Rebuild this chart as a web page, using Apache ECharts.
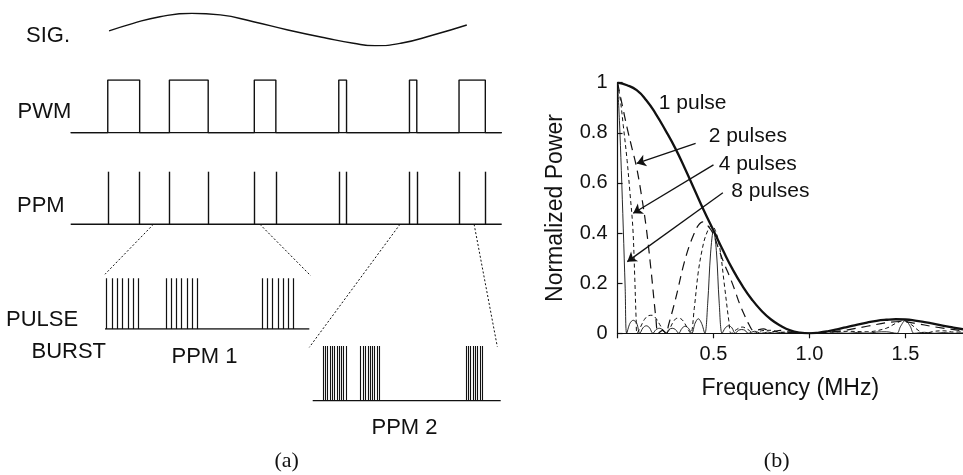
<!DOCTYPE html>
<html><head><meta charset="utf-8">
<script src="https://cdn.jsdelivr.net/npm/echarts@6/dist/echarts.min.js"></script>
<style>html,body{margin:0;padding:0;background:#fff}#c{width:963px;height:475px}</style>
</head><body><div id="c"></div>
<script>
// ===== Panel (b): normalized power spectra =====
const freq1  = [0,0.05,0.1,0.15,0.2,0.25,0.3,0.35,0.4,0.45,0.5,0.55,0.6,0.65,0.7,0.75,0.8,0.85,0.9,0.95,1.0,1.05,1.1,1.15,1.2,1.25,1.3,1.35,1.4,1.45,1.5,1.55,1.6,1.65,1.7,1.75,1.8];
const power1 = [1.00,0.99,0.97,0.93,0.875,0.81,0.74,0.66,0.575,0.49,0.41,0.33,0.255,0.19,0.135,0.09,0.055,0.03,0.012,0.003,0.0,0.003,0.009,0.017,0.026,0.035,0.043,0.05,0.054,0.056,0.055,0.051,0.045,0.038,0.03,0.023,0.016];

const freq2  = [0,0.025,0.05,0.075,0.1,0.125,0.15,0.175,0.2,0.212,0.235,0.255,0.265,0.29,0.31,0.34,0.37,0.395,0.42,0.445,0.47,0.5,0.53,0.56,0.585,0.61,0.635,0.66,0.685,0.71,0.76,0.8,0.85,0.9,0.95,1.0,1.1,1.2,1.3,1.4,1.47,1.55,1.65,1.8];
const power2 = [1,0.91,0.82,0.74,0.66,0.55,0.42,0.25,0.06,0,0.012,0,0.03,0.1,0.16,0.26,0.34,0.39,0.43,0.445,0.43,0.395,0.33,0.27,0.225,0.175,0.12,0.075,0.035,0.01,0.018,0.006,0.012,0.003,0.002,0,0.004,0.014,0.028,0.042,0.047,0.04,0.026,0.01];

const freq4  = [0,0.015,0.03,0.05,0.065,0.08,0.09,0.097,0.102,0.12,0.14,0.16,0.18,0.2,0.22,0.24,0.255,0.27,0.29,0.31,0.33,0.35,0.37,0.382,0.4,0.42,0.44,0.46,0.49,0.51,0.532,0.558,0.58,0.592,0.62,0.65,0.68,0.71,0.75,0.8,0.85,0.9,0.95,1.0,1.1,1.2,1.3,1.4,1.45,1.49,1.53,1.57,1.6,1.65,1.7,1.75,1.8];
const power4 = [1,0.93,0.83,0.69,0.56,0.42,0.22,0.06,0,0.025,0.055,0.07,0.072,0.06,0.035,0.01,0,0.015,0.045,0.06,0.058,0.04,0.012,0,0.1,0.24,0.33,0.39,0.43,0.41,0.345,0.186,0.05,0,0.015,0.025,0.015,0,0.01,0.012,0.004,0.006,0.002,0,0.004,0.008,0.006,0.02,0.04,0.05,0.035,0.01,0,0.008,0.01,0.005,0.006];

const freq8  = [0,0.01,0.02,0.03,0.04,0.048,0.065,0.082,0.1,0.116,0.133,0.15,0.167,0.184,0.2,0.218,0.235,0.251,0.268,0.285,0.302,0.319,0.336,0.353,0.37,0.387,0.404,0.421,0.438,0.455,0.47,0.485,0.5,0.515,0.53,0.545,0.562,0.579,0.596,0.613,0.63,0.647,0.664,0.681,0.715,0.749,0.783,0.817,0.851,0.885,0.919,0.96,1.0,1.05,1.1,1.15,1.2,1.25,1.3,1.35,1.4,1.455,1.475,1.5,1.525,1.545,1.6,1.65,1.7,1.75,1.8];
const power8 = [1,0.85,0.65,0.42,0.18,0,0.04,0.052,0.04,0,0.022,0.03,0.022,0,0.014,0.02,0.014,0,0.015,0.02,0.015,0,0.02,0.028,0.02,0,0.04,0.058,0.04,0,0.12,0.32,0.41,0.33,0.12,0,0.022,0.03,0.022,0,0.012,0.015,0.012,0,0.008,0,0.005,0,0.004,0,0.002,0,0,0.001,0,0.002,0,0.003,0,0.005,0.006,0,0.028,0.052,0.028,0,0.004,0,0.003,0,0.002];

const xTickValues = [0.5, 1.0, 1.5];
const yTickValues = [0, 0.2, 0.4, 0.6, 0.8, 1];
const curveNames  = ['1 pulse', '2 pulses', '4 pulses', '8 pulses'];
const labelFreq   = [0.215, 0.475, 0.527, 0.593];
const labelPower  = [0.92, 0.787, 0.676, 0.568];
const arrowFrom   = [null, [0.407, 0.758], [0.50, 0.672], [0.549, 0.561]];
const arrowTo     = [null, [0.100, 0.678], [0.082, 0.479], [0.051, 0.286]];

// ===== Panel (a): modulation schematic (time in arbitrary units 0..100) =====
const sigTime  = [8.9,14.5,20.7,28.1,34.7,42.4,50.4,59.4,65.6,70.6,76.6,84.1,91.9];
const sigValue = [-0.09,0.38,0.79,1.0,0.9,0.48,-0.03,-0.54,-0.85,-1.0,-0.85,-0.34,0.28];
const pwmRise  = [8.6, 22.9, 42.6, 62.2, 78.6, 90.1];
const pwmFall  = [16.0, 31.9, 47.6, 64.0, 80.3, 96.2];
const ppmPulses = [8.6, 16.0, 22.9, 31.9, 42.6, 47.6, 62.2, 64.0, 78.6, 80.3, 90.1, 96.2];
const burst1Pulses = [0.8,3.4,6.0,8.6,11.2,13.7,16.3, 29.9,32.3,34.9,37.5,40.1,42.6,45.2, 77.0,79.5,82.1,84.6,87.1,89.7,92.2];
const burst2Pulses = [5.6,6.8,8.0,9.2,10.4,11.6,12.8,14.0,15.2,16.4,17.6, 25.5,26.8,28.0,29.3,30.5,31.7,33.0,34.2,35.4, 81.5,82.8,84.0,85.2,86.5,87.7,89.0,90.2];
const zoomFromTime = [19.2, 43.9, 76.4, 93.6];
const zoomToGrid   = [4, 4, 5, 5];
const zoomToPoint  = [[0, 1.08], [100.7, 1.05], [-1.8, 0.976], [98.2, 0.987]];

// ---------------------------------------------------------------
const SANS = "'Liberation Sans', Arial, Helvetica, sans-serif";
const SERIF = "'Liberation Serif', 'Times New Roman', serif";
const INK = '#111';
const zip = (a, b) => a.map((v, i) => [v, b[i]]);

const chart = echarts.init(document.getElementById('c'));

const gridBase = {containLabel: false, outerBoundsMode: 'none'};
const grids = [
  Object.assign({left: 617.5, top: 82.7, width: 345.5, height: 250.6}, gridBase), // 0 spectra
  Object.assign({left: 70.7, top: 13.3, width: 431, height: 32.4}, gridBase),     // 1 SIG
  Object.assign({left: 70.7, top: 80, width: 431, height: 52.7}, gridBase),       // 2 PWM
  Object.assign({left: 70.7, top: 171.7, width: 431, height: 52.6}, gridBase),    // 3 PPM
  Object.assign({left: 105, top: 278.3, width: 204.3, height: 50.7}, gridBase),   // 4 burst 1
  Object.assign({left: 312.7, top: 346, width: 188, height: 54.7}, gridBase)      // 5 burst 2
];

const hiddenX = i => ({type: 'value', gridIndex: i, min: 0, max: 100, show: false});
const hiddenY = (i, mn, mx) => ({type: 'value', gridIndex: i, min: mn, max: mx, show: false});

const xAxes = [{
  type: 'value', gridIndex: 0, min: 0, max: 1.8,
  name: 'Frequency (MHz)', nameLocation: 'middle', nameGap: 44,
  nameTextStyle: {fontFamily: SANS, fontSize: 23, color: INK},
  axisLine: {show: true, onZero: false, lineStyle: {color: INK, width: 1.2}},
  axisTick: {show: true, inside: false, length: 5, customValues: [0, 0.5, 1.0, 1.5], lineStyle: {color: INK, width: 1.2}},
  axisLabel: {show: true, customValues: xTickValues, margin: 11, fontFamily: SANS, fontSize: 20, color: INK,
    formatter: v => Number(v).toFixed(1)},
  splitLine: {show: false}
}, hiddenX(1), hiddenX(2), hiddenX(3), hiddenX(4), hiddenX(5)];

const yAxes = [{
  type: 'value', gridIndex: 0, min: 0, max: 1,
  name: 'Normalized Power', nameLocation: 'middle', nameGap: 50, nameRotate: 90,
  nameTextStyle: {fontFamily: SANS, fontSize: 23, color: INK},
  axisLine: {show: true, lineStyle: {color: INK, width: 1.2}},
  axisTick: {show: true, inside: true, length: 5, customValues: yTickValues, lineStyle: {color: INK, width: 1.2}},
  axisLabel: {show: true, customValues: yTickValues, margin: 10, fontFamily: SANS, fontSize: 20, color: INK,
    formatter: v => (v === 0 || v === 1) ? String(v) : Number(v).toFixed(1)},
  splitLine: {show: false}
}, hiddenY(1, -1, 1), hiddenY(2, 0, 1), hiddenY(3, 0, 1), hiddenY(4, 0, 1), hiddenY(5, 0, 1)];

// PWM polyline from rise/fall edges
const pwmData = [[0, 0]];
pwmRise.forEach((r, i) => { pwmData.push([r, 0], [r, 1], [pwmFall[i], 1], [pwmFall[i], 0]); });
pwmData.push([100, 0]);

const vLines = arr => arr.map(t => ({coords: [[t, 0], [t, 1]]}));
const baseLine = [[0, 0], [100, 0]];
const schemStyle = {color: INK, width: 1.4};

const series = [
  // spectra
  {type: 'line', name: '8 pulses', xAxisIndex: 0, yAxisIndex: 0, data: zip(freq8, power8), smooth: 0.35,
   showSymbol: false, lineStyle: {color: INK, width: 0.9}, z: 2},
  {type: 'line', name: '4 pulses', xAxisIndex: 0, yAxisIndex: 0, data: zip(freq4, power4), smooth: 0.35,
   showSymbol: false, lineStyle: {color: INK, width: 1, type: [4, 3]}, z: 3},
  {type: 'line', name: '2 pulses', xAxisIndex: 0, yAxisIndex: 0, data: zip(freq2, power2), smooth: 0.35,
   showSymbol: false, lineStyle: {color: INK, width: 1.2, type: [9, 6]}, z: 4},
  {type: 'line', name: '1 pulse', xAxisIndex: 0, yAxisIndex: 0, data: zip(freq1, power1), smooth: true,
   showSymbol: false, lineStyle: {color: INK, width: 2.3}, z: 5},
  // arrows
  {type: 'lines', coordinateSystem: 'cartesian2d', xAxisIndex: 0, yAxisIndex: 0, z: 6,
   symbol: ['none', 'arrow'], symbolSize: [0, 9],
   lineStyle: {color: INK, width: 1.3, opacity: 1},
   data: arrowFrom.map((f, i) => f ? {coords: [f, arrowTo[i]]} : null).filter(Boolean)},
  // schematic
  {type: 'line', xAxisIndex: 1, yAxisIndex: 1, data: zip(sigTime, sigValue), smooth: true,
   showSymbol: false, lineStyle: {color: INK, width: 1.4}},
  {type: 'line', xAxisIndex: 2, yAxisIndex: 2, data: baseLine, showSymbol: false, lineStyle: schemStyle},
  {type: 'line', xAxisIndex: 2, yAxisIndex: 2, data: pwmData, showSymbol: false, lineStyle: schemStyle},
  {type: 'line', xAxisIndex: 3, yAxisIndex: 3, data: baseLine, showSymbol: false, lineStyle: schemStyle},
  {type: 'lines', coordinateSystem: 'cartesian2d', xAxisIndex: 3, yAxisIndex: 3, data: vLines(ppmPulses),
   lineStyle: {color: INK, width: 1.4, opacity: 1}},
  {type: 'line', xAxisIndex: 4, yAxisIndex: 4, data: baseLine, showSymbol: false, lineStyle: schemStyle},
  {type: 'lines', coordinateSystem: 'cartesian2d', xAxisIndex: 4, yAxisIndex: 4, data: vLines(burst1Pulses),
   lineStyle: {color: INK, width: 1.2, opacity: 1}},
  {type: 'line', xAxisIndex: 5, yAxisIndex: 5, data: baseLine, showSymbol: false, lineStyle: schemStyle},
  {type: 'lines', coordinateSystem: 'cartesian2d', xAxisIndex: 5, yAxisIndex: 5, data: vLines(burst2Pulses),
   lineStyle: {color: INK, width: 1.1, opacity: 1}}
];

chart.setOption({
  animation: false,
  backgroundColor: '#fff',
  grid: grids,
  xAxis: xAxes,
  yAxis: yAxes,
  series: series
});

// texts, curve labels and dotted zoom connectors
const txt = (text, x, y, align, family, size) => ({
  type: 'text', x: x, y: y, silent: true,
  style: {text: text, font: size + 'px ' + family, fill: INK, textAlign: align, textVerticalAlign: 'middle'}
});
const elements = [
  txt('SIG.', 26, 35.5, 'left', SANS, 22),
  txt('PWM', 17.5, 112, 'left', SANS, 22),
  txt('PPM', 17, 206, 'left', SANS, 22),
  txt('PULSE', 6, 320, 'left', SANS, 22),
  txt('BURST', 31.5, 351.5, 'left', SANS, 22),
  txt('PPM 1', 171.5, 356.5, 'left', SANS, 22),
  txt('PPM 2', 371.5, 428, 'left', SANS, 22),
  txt('(a)', 286.7, 461.7, 'center', SERIF, 22),
  txt('(b)', 776.7, 461.7, 'center', SERIF, 22)
];
curveNames.forEach((n, i) => {
  const p = chart.convertToPixel({gridIndex: 0}, [labelFreq[i], labelPower[i]]);
  elements.push(txt(n, p[0], p[1], 'left', SANS, 21));
});
zoomFromTime.forEach((t, i) => {
  const p1 = chart.convertToPixel({gridIndex: 3}, [t, 0]);
  const p2 = chart.convertToPixel({gridIndex: zoomToGrid[i]}, zoomToPoint[i]);
  elements.push({type: 'line', silent: true,
    shape: {x1: p1[0], y1: p1[1], x2: p2[0], y2: p2[1]},
    style: {stroke: INK, lineWidth: 1, lineDash: [2, 2]}});
});
chart.setOption({graphic: {elements: elements}});
</script>
</body></html>
